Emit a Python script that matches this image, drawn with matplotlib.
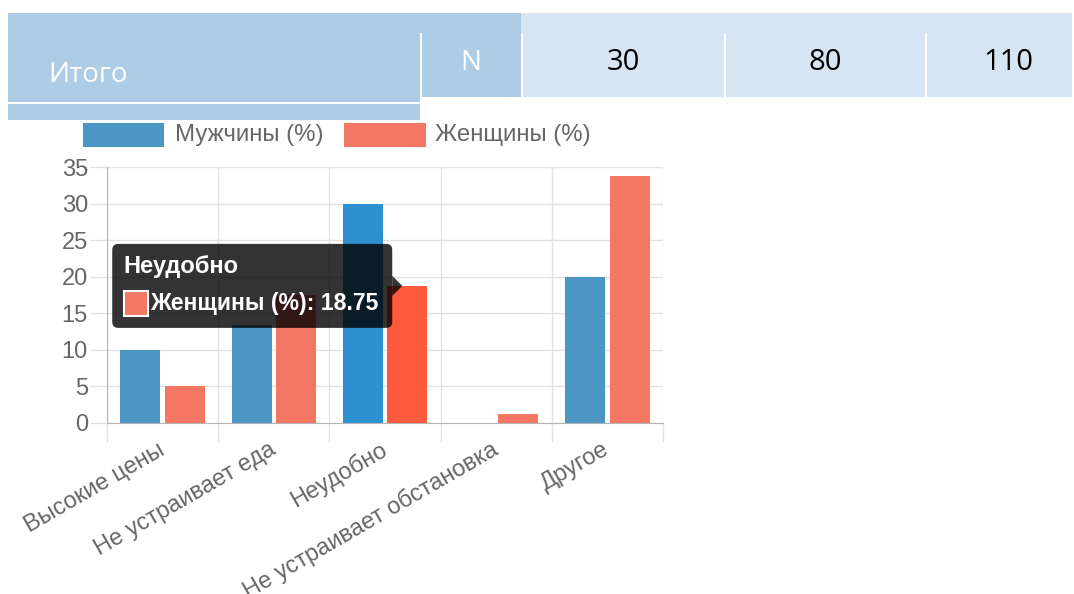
import matplotlib
matplotlib.use('Agg')
import matplotlib.pyplot as plt
from matplotlib.patches import Rectangle, FancyBboxPatch, Polygon
import numpy as np

# data
categories = ['Высокие цены', 'Не устраивает еда', 'Неудобно',
              'Не устраивает обстановка', 'Другое']
men = [10, 13.33, 30, 0, 20]
women = [5, 17.5, 18.75, 1.25, 33.75]
series_names = ['Мужчины (%)', 'Женщины (%)']
y_ticks = [0, 5, 10, 15, 20, 25, 30, 35]
table_row_label = 'Итого'
table_n_label = 'N'
table_values = [30, 80, 110]
hover_index = 2  # bar under the tooltip

W, H = 1074, 594
BLUE, BLUE_HOVER = '#4b96c3', '#2e91cf'
RED, RED_HOVER = '#f47764', '#ff5a3d'
GRID = '#e2e2e2'
DARK, LIGHT = '#aecce6', '#d7e5f2'
TXT = '#666666'

plt.rcParams['font.family'] = ['Liberation Sans', 'DejaVu Sans']

fig = plt.figure(figsize=(W / 100, H / 100), dpi=100)

# ---- chart ----
ax = fig.add_axes([107 / W, 1 - 422.7 / H, 556 / W, 255.4 / H])
x = np.arange(len(categories))
bw = 0.36
men_cols = [BLUE_HOVER if i == hover_index else BLUE for i in x]
women_cols = [RED_HOVER if i == hover_index else RED for i in x]
ax.bar(x - 0.2, men, bw, color=men_cols, zorder=2)
ax.bar(x + 0.2, women, bw, color=women_cols, zorder=2)
ax.set_xlim(-0.5, len(categories) - 0.5)
ax.set_ylim(0, 35)
ax.set_yticks(y_ticks)
ax.set_xticks(x)
ax.set_xticklabels(categories, rotation=30, ha='right', va='center',
                   rotation_mode='anchor')
ax.set_xticks(np.arange(-0.5, len(categories)), minor=True)
ax.tick_params(axis='x', which='major', length=0, pad=18.5, labelsize=17,
               labelcolor=TXT)
ax.tick_params(axis='x', which='minor', length=13.7, color=GRID, width=1)
ax.tick_params(axis='y', length=12.2, color=GRID, width=1, pad=1.5,
               labelsize=17, labelcolor=TXT)
ax.grid(axis='y', color=GRID, lw=1)
ax.grid(axis='x', which='minor', color=GRID, lw=1)
ax.set_axisbelow(True)
for s in ['top', 'right']:
    ax.spines[s].set_visible(False)
for s in ['left', 'bottom']:
    ax.spines[s].set_color('#b5b5b5')

# ---- overlay in pixel coords (table, legend, tooltip) ----
ov = fig.add_axes([0, 0, 1, 1], zorder=5)
ov.set_xlim(0, W)
ov.set_ylim(H, 0)
ov.axis('off')
ov.patch.set_alpha(0)

# table
ov.add_patch(Rectangle((8, 13), 513, 20, color=DARK, lw=0))
ov.add_patch(Rectangle((521, 13), 551, 20, color=LIGHT, lw=0))
ov.add_patch(Rectangle((8, 33), 412, 68.7, color=DARK, lw=0))
ov.add_patch(Rectangle((422, 33), 98.7, 64, color=DARK, lw=0))
ov.add_patch(Rectangle((8, 104), 412, 15.5, color=DARK, lw=0))
cells = [(523, 724), (726, 925), (927, 1072)]
for (x0, x1) in cells:
    ov.add_patch(Rectangle((x0, 33), x1 - x0, 64, color=LIGHT, lw=0))
ov.text(48, 75, table_row_label, color='white', fontsize=20, va='center',
        family='Open Sans')
ov.text(471, 63, table_n_label, color='white', fontsize=20, va='center',
        ha='center', family='Open Sans')
val_x = [623.5, 825.5, 1008]
for v, vx in zip(table_values, val_x):
    ov.text(vx, 63, str(v), color='black', fontsize=21, va='center',
            ha='center', family='Open Sans')

# legend
for bx, tx, col, name in [(82.7, 175, BLUE, series_names[0]),
                          (344, 435, RED, series_names[1])]:
    ov.add_patch(Rectangle((bx, 123.3), 80.6, 22.7, facecolor=col,
                           edgecolor=col, lw=0.8))
    ov.text(tx, 134.5, name, color=TXT, fontsize=17.3, va='center')

# tooltip pointing at the hovered women bar
disp = ax.transData.transform((hover_index + 0.2, women[hover_index]))
tip_x = disp[0] - 5
tip_y = H - disp[1]
br = tip_x - 10
bl = br - 280
bt = tip_y - 42
ov.add_patch(FancyBboxPatch((bl, bt), 280, 84,
                            boxstyle='round,pad=0,rounding_size=6',
                            facecolor='black', alpha=0.8, lw=0))
ov.add_patch(Polygon([(br, tip_y - 10), (tip_x, tip_y), (br, tip_y + 10)],
                     closed=True, facecolor='black', alpha=0.8, lw=0))
ov.text(bl + 11, bt + 23, categories[hover_index], color='white',
        fontsize=17, fontweight='bold', va='center')
ov.add_patch(Rectangle((bl + 12, bt + 47), 24, 25, facecolor=RED,
                       edgecolor='white', lw=1.5))
ov.text(bl + 38, bt + 60, f'{series_names[1]}: {women[hover_index]}',
        color='white', fontsize=16.6, fontweight='bold', va='center')

fig.savefig('out.png', dpi=100)
